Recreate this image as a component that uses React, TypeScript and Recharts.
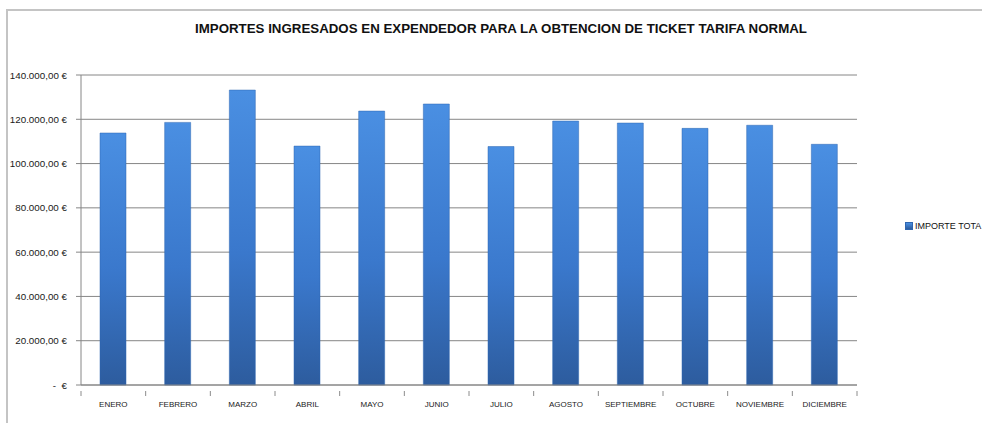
import React from "react";
import { BarChart, Bar, XAxis, YAxis, CartesianGrid } from "recharts";

const months = ["ENERO", "FEBRERO", "MARZO", "ABRIL", "MAYO", "JUNIO", "JULIO", "AGOSTO", "SEPTIEMBRE", "OCTUBRE", "NOVIEMBRE", "DICIEMBRE"];
const importeTotal = [113800, 118600, 133200, 107900, 123700, 126900, 107700, 119200, 118300, 115900, 117300, 108700];
const yTicks = [0, 20000, 40000, 60000, 80000, 100000, 120000, 140000];
const title = "IMPORTES INGRESADOS EN EXPENDEDOR PARA LA OBTENCION DE TICKET TARIFA NORMAL";
const seriesName = "IMPORTE TOTA";

const data = months.map((m, i) => ({ mes: m, importe: importeTotal[i] }));

const fmt = (v: number) => {
  if (v === 0) return " -  €";
  const s = Math.round(v).toString().replace(/\B(?=(\d{3})+(?!\d))/g, ".");
  return s + ",00 €";
};

const FONT = "'Liberation Sans', Arial, sans-serif";

const YTick = (props: any) => {
  const { x, y, payload } = props;
  return (
    <text x={x} y={y} dy={3.5} textAnchor="end" fontSize={9.8} fontFamily={FONT} fill="#1a1a1a" style={{ whiteSpace: "pre" }}>
      {fmt(payload.value)}
    </text>
  );
};

const XTick = (props: any) => {
  const { x, y, payload, width, visibleTicksCount } = props;
  const band = width && visibleTicksCount ? width / visibleTicksCount : 0;
  const isLast = payload.index === visibleTicksCount - 1;
  return (
    <g>
      {band > 0 && (
        <line x1={x - band / 2} x2={x - band / 2} y1={y - 2} y2={y + 3} stroke="#8c8c8c" strokeWidth={1} />
      )}
      {band > 0 && isLast && (
        <line x1={x + band / 2} x2={x + band / 2} y1={y - 2} y2={y + 3} stroke="#8c8c8c" strokeWidth={1} />
      )}
      <text x={x} y={y} dy={14} textAnchor="middle" fontSize={8} fontFamily={FONT} fill="#1a1a1a">
        {payload.value}
      </text>
    </g>
  );
};

export default function App() {
  return (
    <div style={{ position: "fixed", left: 0, top: 0, width: 982, height: 423, background: "#fff", overflow: "hidden" }}>
      <div
        style={{
          position: "absolute",
          left: 6,
          top: 9,
          width: 1000,
          height: 500,
          borderTop: "2px solid #c4c4c4",
          borderLeft: "2px solid #c4c4c4",
        }}
      />
      <div
        style={{
          position: "absolute",
          left: 10,
          width: 982,
          top: 21,
          textAlign: "center",
          fontFamily: FONT,
          fontWeight: "bold",
          fontSize: 13.3,
          color: "#111",
        }}
      >
        {title}
      </div>
      <div style={{ position: "absolute", left: 0, top: 0 }}>
        <BarChart width={982} height={423} data={data} margin={{ top: 75, right: 125, bottom: 8, left: 8 }} barCategoryGap="30%">
          <defs>
            <linearGradient id="barV" x1="0" y1="0" x2="0" y2="1">
              <stop offset="0%" stopColor="#4a8fe2" />
              <stop offset="55%" stopColor="#3a78cc" />
              <stop offset="100%" stopColor="#2d5c9e" />
            </linearGradient>
          </defs>
          <CartesianGrid vertical={false} stroke="#868686" strokeWidth={1} />
          <XAxis
            dataKey="mes"
            interval={0}
            height={30}
            tickLine={false}
            axisLine={{ stroke: "#868686" }}
            tick={<XTick />}
          />
          <YAxis
            width={73}
            domain={[0, 140000]}
            ticks={yTicks}
            interval={0}
            tickSize={5}
            tickMargin={9}
            tickLine={{ stroke: "#868686" }}
            axisLine={{ stroke: "#868686" }}
            tick={<YTick />}
          />
          <Bar dataKey="importe" name={seriesName} fill="url(#barV)" stroke="#2f66b0" strokeWidth={0.5} barSize={26} isAnimationActive={false} />
        </BarChart>
      </div>
      <div style={{ position: "absolute", left: 905, top: 221, display: "flex", alignItems: "center", fontFamily: FONT, fontSize: 9, color: "#111" }}>
        <span style={{ display: "inline-block", width: 6, height: 6, background: "linear-gradient(#4a8fe2, #2d5c9e)", border: "0.5px solid #2f66b0", marginRight: 2 }} />
        {seriesName}
      </div>
    </div>
  );
}
